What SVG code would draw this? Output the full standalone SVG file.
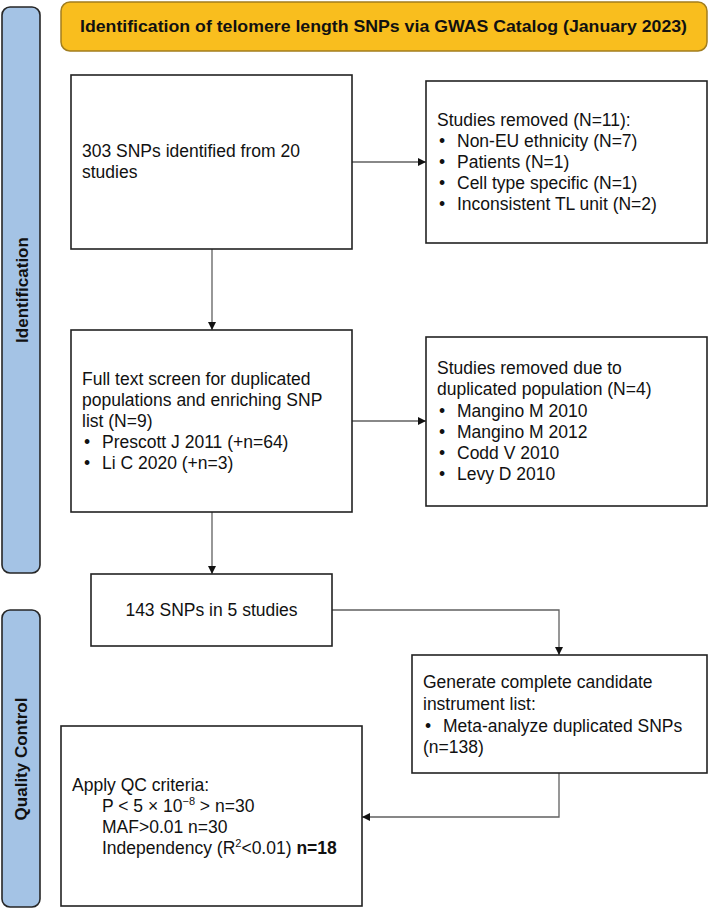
<svg xmlns="http://www.w3.org/2000/svg" width="709" height="910" viewBox="0 0 709 910">
  <style>
    .box { fill: #ffffff; stroke: #222222; stroke-width: 1.6; }
    .bar { fill: #A4C3E5; stroke: #262626; stroke-width: 1.6; }
    .banner { fill: #F9BE1E; stroke: #A27E1E; stroke-width: 1.5; }
    .t { font-family: "Liberation Sans", Arial, sans-serif; font-size: 17.5px; fill: #111111; }
    .tb { font-family: "Liberation Sans", Arial, sans-serif; font-weight: bold; fill: #111111; }
    .c { text-anchor: middle; }
    .conn { fill: none; stroke: #606060; stroke-width: 1.3; }
  </style>
  <defs>
    <marker id="arrow" markerUnits="userSpaceOnUse" markerWidth="9" markerHeight="8" refX="8" refY="4" orient="auto">
      <path d="M0,0 L8,4 L0,8 z" fill="#111111"/>
    </marker>
  </defs>
  <rect width="709" height="910" fill="#ffffff"/>

  <g id="phase-identification">
    <rect class="bar" x="2" y="7" width="38" height="566" rx="8"/>
    <text class="tb c" font-size="17" transform="translate(28,290) rotate(-90)">Identification</text>
  </g>
  <g id="phase-qc">
    <rect class="bar" x="2" y="610" width="38" height="297" rx="8"/>
    <text class="tb c" font-size="17" transform="translate(27,759) rotate(-90)">Quality Control</text>
  </g>

  <g id="banner">
    <rect class="banner" x="61" y="2" width="646" height="49" rx="9"/>
    <text class="tb c" font-size="17" x="383.5" y="32" textLength="607" lengthAdjust="spacingAndGlyphs">Identification of telomere length SNPs via GWAS Catalog (January 2023)</text>
  </g>

  <g id="connectors">
    <path class="conn" d="M352,162 H426" marker-end="url(#arrow)"/>
    <path class="conn" d="M212,249 V330" marker-end="url(#arrow)"/>
    <path class="conn" d="M352,421 H426" marker-end="url(#arrow)"/>
    <path class="conn" d="M212,512 V574" marker-end="url(#arrow)"/>
    <path class="conn" d="M332,610 H559 V655" marker-end="url(#arrow)"/>
    <path class="conn" d="M559,773 V817 H362" marker-end="url(#arrow)"/>
  </g>

  <g id="n-snps303">
    <rect class="box" x="71" y="75" width="281" height="174"/>
    <text class="t" x="82" y="157">303 SNPs identified from 20</text>
    <text class="t" x="82" y="178">studies</text>
  </g>

  <g id="n-removed11">
    <rect class="box" x="426" y="81" width="281" height="162"/>
    <text class="t" x="437" y="126">Studies removed (N=11):</text>
    <text class="t" x="439" y="147">•</text><text class="t" x="457" y="147">Non-EU ethnicity (N=7)</text>
    <text class="t" x="439" y="168">•</text><text class="t" x="457" y="168">Patients (N=1)</text>
    <text class="t" x="439" y="189">•</text><text class="t" x="457" y="189">Cell type specific (N=1)</text>
    <text class="t" x="439" y="210">•</text><text class="t" x="457" y="210">Inconsistent TL unit (N=2)</text>
  </g>

  <g id="n-fulltext">
    <rect class="box" x="71" y="330" width="281" height="182"/>
    <text class="t" x="82" y="385">Full text screen for duplicated</text>
    <text class="t" x="82" y="406">populations and enriching SNP</text>
    <text class="t" x="82" y="427">list (N=9)</text>
    <text class="t" x="84" y="448">•</text><text class="t" x="102" y="448">Prescott J 2011 (+n=64)</text>
    <text class="t" x="84" y="469">•</text><text class="t" x="102" y="469">Li C 2020 (+n=3)</text>
  </g>

  <g id="n-removed4">
    <rect class="box" x="426" y="337" width="281" height="169"/>
    <text class="t" x="437" y="374">Studies removed due to</text>
    <text class="t" x="437" y="395">duplicated population (N=4)</text>
    <text class="t" x="439" y="417">•</text><text class="t" x="457" y="417">Mangino M 2010</text>
    <text class="t" x="439" y="438">•</text><text class="t" x="457" y="438">Mangino M 2012</text>
    <text class="t" x="439" y="459">•</text><text class="t" x="457" y="459">Codd V 2010</text>
    <text class="t" x="439" y="480">•</text><text class="t" x="457" y="480">Levy D 2010</text>
  </g>

  <g id="n-snps143">
    <rect class="box" x="91" y="574" width="241" height="72"/>
    <text class="t c" x="211.5" y="616">143 SNPs in 5 studies</text>
  </g>

  <g id="n-candidate">
    <rect class="box" x="412" y="655" width="295" height="118"/>
    <text class="t" x="423" y="688">Generate complete candidate</text>
    <text class="t" x="423" y="710">instrument list:</text>
    <text class="t" x="425" y="732">•</text><text class="t" x="443" y="732">Meta-analyze duplicated SNPs</text>
    <text class="t" x="423" y="753">(n=138)</text>
  </g>

  <g id="n-qc">
    <rect class="box" x="61" y="726" width="301" height="180"/>
    <text class="t" x="72" y="791">Apply QC criteria:</text>
    <text class="t" x="102" y="812">P &lt; 5 × 10<tspan font-size="11" dy="-7">−8</tspan><tspan dy="7"> &gt; n=30</tspan></text>
    <text class="t" x="102" y="833">MAF&gt;0.01 n=30</text>
    <text class="t" x="102" y="854">Independency (R<tspan font-size="11" dy="-7">2</tspan><tspan dy="7">&lt;0.01) </tspan><tspan font-weight="bold">n=18</tspan></text>
  </g>
</svg>
